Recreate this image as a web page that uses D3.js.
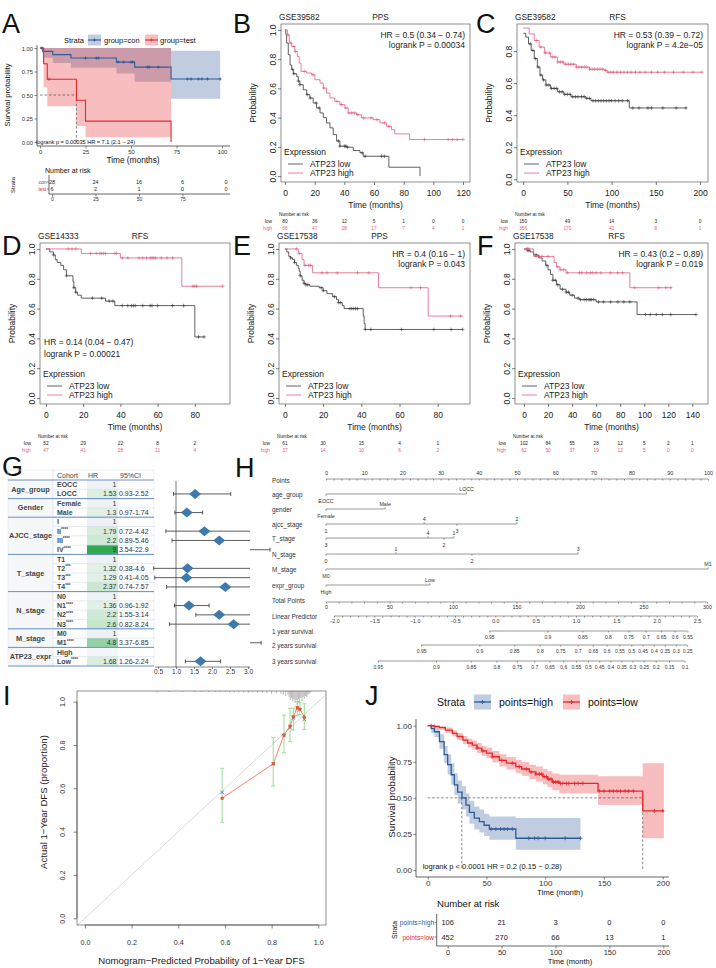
<!DOCTYPE html>
<html><head><meta charset="utf-8">
<script src="https://cdn.jsdelivr.net/npm/d3@7/dist/d3.min.js"></script>
<style>
html,body{margin:0;padding:0;background:#fff;}
svg{display:block;}
</style></head><body>
<svg id="fig" width="716" height="968"></svg>
<script>
// ================= DATA =================
// Panel A (KM, ggsurvplot)
const aConTime=[0,1.5,7,17,42,52,72,99];
const aConSurv=[1,0.964,0.929,0.893,0.85,0.797,0.67,0.67];
const aConLower=[1,0.895,0.84,0.79,0.73,0.64,0.46,0.46];
const aConUpper=[1,1,1,1,1,1,0.97,0.97];
const aConCensor=[1,25,31,32,43,46,50,51,59,60,65,81,83,87,89,92,99];
const aTestTime=[0,2,4,20,25,72];
const aTestSurv=[1,0.833,0.667,0.444,0.222,0];
const aTestLower=[1,0.58,0.38,0.17,0.05,0];
const aTestUpper=[1,1,1,1,1,1];
const aTestCensor=[5];
const aMedian=20;
const aTimeTicks=[0,25,50,75,100];
const aRiskTimes=[0,25,50,75,100];
const aRiskCon=[28,24,16,6,0];
const aRiskTest=[6,2,1,0,0];

// Panel B GSE39582 PPS
const bLowT=[0,0.5,1.1,2.2,3.4,4.5,5.6,7.9,9,10,12.3,14.6,16.8,19,21.3,23.6,25.8,28,30.3,32.5,34.8,37,41.5,46,50.5,52.7,70,91];
const bLowS=[1,0.97,0.91,0.83,0.76,0.73,0.70,0.68,0.65,0.625,0.59,0.557,0.534,0.50,0.466,0.432,0.40,0.364,0.33,0.284,0.24,0.205,0.198,0.175,0.16,0.136,0.061,0];
const bLowC=[5,6,9,10,15,17,21,23,36,37,40,41,42,52,54,65,67];
const bHighT=[0,1.6,2.9,4.5,6.7,8.3,9.6,10.8,14.6,18,20.2,23.6,25.8,28,30.3,33.6,37,40.4,42.6,48.2,51.6,59.4,64,68.4,71.8,74,84,120];
const bHighS=[1,0.966,0.91,0.886,0.852,0.818,0.773,0.716,0.705,0.693,0.659,0.636,0.602,0.568,0.534,0.511,0.489,0.466,0.432,0.42,0.398,0.386,0.364,0.341,0.318,0.289,0.25,0.25];
const bHighC=[2,4,6,7,13,19,26,35,38,41,43,45,47,49,53,58,62,67,70,94,110,113,116,120];
const bRiskT=[0,20,40,60,80,100,120];
const bRiskLow=[80,36,12,5,1,0,0];
const bRiskHigh=[66,47,28,17,7,4,1];

// Panel C GSE39582 RFS
const cLowT=[0,3,6,9,12.5,16,19,22,25.7,31,39,46,54,71,76.6,120,185];
const cLowS=[0.911,0.887,0.845,0.804,0.753,0.70,0.65,0.62,0.588,0.567,0.546,0.53,0.515,0.505,0.49,0.445,0.445];
const cLowC=[8,11,14,17,20,23,26,29,32,35,38,41,44,47,50,53,56,59,62,66,69,72,75,79,82,85,88,91,94,97,100,104,108,112,118,124,131,141,145,158,173,184];
const cHighT=[0,6.8,12.5,18,24,31,39,46,60,75,92,95,202];
const cHighS=[0.944,0.907,0.866,0.825,0.788,0.763,0.732,0.718,0.70,0.687,0.68,0.668,0.668];
const cHighC=[15,20,25,30,33,36,39,42,45,48,51,54,57,60,63,66,69,72,75,78,81,84,87,90,93,96,99,102,106,110,114,118,122,127,132,138,145,152,160,170,181,192,202];
const cRiskT=[0,50,100,150,200];
const cRiskLow=[150,49,14,3,0];
const cRiskHigh=[356,170,42,8,1];

// Panel D GSE14333 RFS
const dLowT=[0,2,4,5,6,8,9.5,11,14.5,15,16,17,19,32,37,80,85];
const dLowS=[1,0.98,0.96,0.93,0.91,0.89,0.86,0.82,0.78,0.74,0.71,0.69,0.67,0.65,0.62,0.41,0.41];
const dLowC=[4,11,15,16,25,30,34,36,41,44,46,47,48,52,56,57,60,68,74,82,85];
const dHighT=[0,19,40,73,95];
const dHighS=[1,0.97,0.94,0.75,0.75];
const dHighC=[12,14,16,24,27,29,30,31,32,37,38,41,44,50,52,54,56,57,58,59,62,65,68,79,80,81,95];
const dRiskT=[0,20,40,60,80];
const dRiskLow=[52,29,22,8,2];
const dRiskHigh=[47,41,28,11,4];

// Panel E GSE17538 PPS
const eLowT=[0,1,2,3,4,5,6,7,7.5,8,9,10,11,13,18,20,22,25,27,28,30,31,41,41.5,42,93];
const eLowS=[1,0.98,0.95,0.94,0.93,0.91,0.89,0.87,0.85,0.82,0.79,0.77,0.76,0.75,0.74,0.72,0.70,0.68,0.66,0.64,0.62,0.60,0.55,0.50,0.46,0.46];
const eLowC=[3,5,8,10,11,12,19,20,26,28,29,34,35,36,37,38,42,45,61,78,87,93];
const eHighT=[0,7,9,10,14.5,49,75,93];
const eHighS=[1,0.97,0.93,0.89,0.84,0.74,0.55,0.55];
const eHighC=[6,7.6,10.6,12.4,13.3,19.5,22,27.4,38,44,66,71,86.7,92];
const eRiskT=[0,20,40,60,80];
const eRiskLow=[61,30,15,4,1];
const eRiskHigh=[37,14,10,6,2];

// Panel F GSE17538 RFS
const fLowT=[0,3,5,8,12,15,18,20,22,24,27,30,35,38,42,46,60,94,143];
const fLowS=[1,0.99,0.98,0.96,0.94,0.92,0.89,0.86,0.83,0.79,0.76,0.73,0.71,0.69,0.67,0.66,0.645,0.56,0.56];
const fLowC=[3,4,10,19,24,26,28,32,35,37,40,45,47,50,52,54,55,56,58,62,66,72,78,83,88,101,105,110,115,122,143];
const fHighT=[0,8,25,27,30,35,88,123];
const fHighS=[1,0.95,0.91,0.88,0.86,0.84,0.74,0.74];
const fHighC=[2,3,4,10,13,15,20,28,30,33,36,46,48,52,55,57,60,64,72,78,82,92,112,118,122];
const fRiskT=[0,20,40,60,80,100,120,140];
const fRiskLow=[102,84,55,28,12,5,2,1];
const fRiskHigh=[62,50,37,19,12,5,0,0];

// Panel G forest table
const gGroupNames=["Age_group","Gender","AJCC_stage","T_stage","N_stage","M_stage","ATP23_expr"];
const gGroupSizes=[2,2,4,4,4,2,2];
const gCohort=["EOCC","LOCC","Female","Male","I","II","III","IV","T1","T2","T3","T4","N0","N1","N2","N3","M0","M1","High","Low"];
const gStars=["","","","","","****","****","****","","***","***","***","","****","****","****","","****","","****"];
const gHR=[1,1.53,1,1.3,1,1.79,2.2,9,1,1.32,1.29,2.37,1,1.36,2.2,2.6,1,4.8,null,1.68];
const gLo=[null,0.93,null,0.97,null,0.72,0.89,3.54,null,0.38,0.41,0.74,null,0.96,1.55,0.82,null,3.37,null,1.26];
const gHi=[null,2.52,null,1.74,null,4.42,5.46,22.9,null,4.6,4.05,7.57,null,1.92,3.14,8.24,null,6.85,null,2.24];
const gAxisTicks=[0.5,1,1.5,2,2.5,3];

// Panel H nomogram
const nomoVars=["age_group","gender","ajcc_stage","T_stage","N_stage","M_stage","expr_group"];
const nomoLevels=[["EOCC","LOCC"],["Female","Male"],["1","4","3","2"],["3","4","2","1"],["0","1","2","3"],["M0","M1"],["High","Low"]];
const nomoPoints=[[0,36.8],[0,15.5],[0,25.7,34.3,50],[0,26.7,30.9,33.5],[0,18.3,38.2,66],[0,100],[0,27.2]];
const nomoSide=[["b","a"],["b","a"],["b","a","b","a"],["b","a","b","a"],["b","a","b","a"],["b","a"],["b","a"]];
const surv1Labels=[0.95,0.9,0.85,0.8,0.75,0.7,0.65,0.6,0.55];
const surv1LP=[-0.075,0.645,1.078,1.395,1.649,1.864,2.053,2.223,2.381];
const surv2Labels=[0.95,0.9,0.85,0.8,0.75,0.7,0.65,0.6,0.55,0.5,0.45,0.4,0.35,0.3,0.25];
const surv2LP=[-0.919,-0.199,0.234,0.551,0.805,1.020,1.209,1.379,1.537,1.685,1.826,1.964,2.100,2.237,2.378];
const surv3Labels=[0.95,0.9,0.85,0.8,0.75,0.7,0.65,0.6,0.55,0.5,0.45,0.4,0.35,0.3,0.25,0.2,0.15,0.1];
const surv3LP=[-1.457,-0.737,-0.304,0.013,0.267,0.482,0.671,0.841,0.999,1.147,1.288,1.426,1.562,1.699,1.840,1.989,2.153,2.347];

// Panel I calibration
const iPred=[0.588,0.807,0.853,0.879,0.893,0.91,0.921,0.94];
const iObs=[0.554,0.713,0.846,0.887,0.93,0.972,0.965,0.929];
const iCorr=[0.581,0.713,0.843,0.88,0.925,0.97,0.962,0.918];
const iLo=[0.443,0.61,0.764,0.815,0.869,0.935,0.94,0.872];
const iHi=[0.692,0.835,0.938,0.969,0.97,1.0,0.995,0.99];
const iRugX=[0.31,0.36,0.42,0.47,0.5,0.53,0.56,0.58,0.6,0.62,0.64,0.66,0.68,0.7,0.72,0.74,0.76,0.78,0.8,0.82,0.84,0.85,0.86,0.87,0.875,0.88,0.885,0.89,0.895,0.9,0.905,0.91,0.915,0.92,0.925,0.93,0.935,0.94,0.945,0.95,0.955,0.96,0.965];
const iRugLen=[1,1,1,1,1,1,1,1,1,1.5,1.5,1.5,1.5,2,1.5,2,2,2,3,2.5,3,4,5,4,6,9,7,10,8,12,9,13,8,11,7,10,6,8,5,6,4,3,2];
const iTicks=[0,0.2,0.4,0.6,0.8,1.0];

// Panel J
const jHighT=[0,3,5.7,10,14,17,20,22.7,25.5,29.2,32.6,35.5,39.7,44,48,52.5,75,130];
const jHighS=[1,0.98,0.958,0.89,0.8,0.73,0.66,0.59,0.54,0.5,0.45,0.40,0.36,0.335,0.31,0.284,0.22,0.22];
const jHighLo=[1,0.95,0.92,0.84,0.74,0.66,0.59,0.52,0.46,0.42,0.37,0.32,0.28,0.26,0.235,0.21,0.14,0.14];
const jHighUp=[1,1,0.99,0.94,0.86,0.80,0.74,0.67,0.62,0.58,0.53,0.48,0.44,0.42,0.39,0.37,0.36,0.36];
const jHighC=[54,58,62,65,68,72,86,91,94,100,117,130];
const jLowT=[0,5,10,15,21,25,30,34,38,42,46,50,55,61,67,75,80,86.5,92,98,102,106,112,145,183,201];
const jLowS=[1,0.995,0.986,0.97,0.947,0.925,0.9,0.88,0.866,0.845,0.825,0.81,0.785,0.76,0.74,0.716,0.70,0.68,0.665,0.647,0.63,0.61,0.6,0.547,0.41,0.41];
const jLowLo=[1,0.985,0.972,0.952,0.925,0.9,0.872,0.85,0.834,0.81,0.79,0.773,0.745,0.718,0.697,0.67,0.653,0.63,0.613,0.594,0.574,0.552,0.53,0.45,0.22,0.22];
const jLowUp=[1,1,0.998,0.988,0.968,0.95,0.928,0.91,0.898,0.88,0.86,0.847,0.824,0.802,0.783,0.762,0.748,0.73,0.717,0.7,0.686,0.668,0.66,0.65,0.74,0.74];
const jLowC=[3,6,42,47,55,63,72,78,84,88,92,95,97,99,101,103,105,107,109,111,113,115,118,120,125,128,132,146,150,155,158,161,164,168,171,175,193,200];
const jMedHigh=29, jMedLow=183;
const jTimeTicks=[0,50,100,150,200];
const jRiskHigh=[106,21,3,0,0];
const jRiskLow=[452,270,66,13,1];

// ================= DRAWING =================
const FONT='"Liberation Sans", Arial, Helvetica, sans-serif';
const svg=d3.select("#fig").attr("font-family",FONT);
const BLUE="#2E5A97", RED="#E8272B", HIGHC="#e2607e", LOWC="#3a3a3a";

function addText(g,x,y,s,o={}){
  const t=g.append("text").attr("x",x).attr("y",y).text(s)
    .attr("font-size",o.size||8).attr("fill",o.fill||"#000")
    .attr("text-anchor",o.anchor||"start").attr("dominant-baseline",o.base||"central");
  if(o.weight) t.attr("font-weight",o.weight);
  if(o.rot) t.attr("transform",`rotate(${o.rot},${x},${y})`);
  return t;
}
function styleAxis(a,size,col){
  a.attr("font-family",FONT).attr("font-size",size);
  a.selectAll(".tick line").attr("stroke",col).attr("stroke-width",0.6);
  a.selectAll(".tick text").attr("fill",col);
  a.select(".domain").attr("stroke",col).attr("stroke-width",0.6);
}
function plus(g,pts,color,h,w){
  g.append("path").attr("d",pts.map(p=>`M${p[0]-h},${p[1]}H${p[0]+h}M${p[0]},${p[1]-h}V${p[1]+h}`).join(""))
    .attr("stroke",color).attr("stroke-width",w||0.6).attr("fill","none");
}
function survAt(T,S,t){let v=S[0];for(let i=0;i<T.length;i++){if(T[i]<=t)v=S[i];}return v;}

// panel letters
[["A",2,33],["B",233,33],["C",476,33],["D",2,255],["E",233,255],["F",477,255],["G",2,476],["H",235,477],["I",3,705],["J",365,705]]
 .forEach(d=>addText(svg,d[1],d[2],d[0],{size:27,base:"alphabetic",fill:"#111"}));

// ---------- R-base KM panels (B-F) ----------
function kmBase(c){
  const g=svg.append("g");
  const x=d3.scaleLinear(c.xDom,[c.L,c.R]);
  const y=d3.scaleLinear(c.yDom,[c.B,c.T]);
  g.append("clipPath").attr("id","cp"+c.id).append("rect").attr("x",c.L).attr("y",c.T).attr("width",c.R-c.L).attr("height",c.B-c.T);
  const pg=g.append("g").attr("clip-path",`url(#cp${c.id})`);
  const line=d3.line().x(d=>x(d[0])).y(d=>y(d[1])).curve(d3.curveStepAfter);
  c.curves.forEach(cv=>{
    pg.append("path").attr("d",line(cv.t.map((t,i)=>[t,cv.s[i]]))).attr("fill","none").attr("stroke",cv.color).attr("stroke-width",0.8);
    plus(pg,cv.c.map(t=>[x(t),y(survAt(cv.t,cv.s,t))]),cv.color,1.8);
  });
  g.append("rect").attr("x",c.L).attr("y",c.T).attr("width",c.R-c.L).attr("height",c.B-c.T).attr("fill","none").attr("stroke","#444").attr("stroke-width",0.6);
  const xa=g.append("g").attr("transform",`translate(0,${c.B})`).call(d3.axisBottom(x).tickValues(c.xTicks).tickSize(3).tickFormat(d3.format("d")));
  xa.select(".domain").remove(); styleAxis(xa,8.5,"#222");
  xa.selectAll(".tick text").attr("y",11).attr("dy","0.35em");
  const ya=g.append("g").attr("transform",`translate(${c.L},0)`).call(d3.axisLeft(y).tickValues(c.yTicks).tickSize(3).tickFormat(d3.format(".1f")));
  ya.select(".domain").remove(); styleAxis(ya,8.5,"#222");
  ya.selectAll(".tick text").attr("x",0).attr("y",-5).attr("dy",null).attr("text-anchor","middle").attr("transform","rotate(-90)");
  addText(g,c.L-2,c.T-7,c.title,{size:8.3,fill:"#222"});
  addText(g,(c.L+c.R)/2+5,c.T-7,c.endpoint,{size:8.3,anchor:"middle",fill:"#222"});
  addText(g,c.L-28,(c.T+c.B)/2,"Probability",{size:8.5,anchor:"middle",rot:-90,fill:"#222"});
  addText(g,(c.L+c.R)/2,c.B+23,"Time (months)",{size:8.5,anchor:"middle",fill:"#222"});
  if(c.hrLeft){
    addText(g,c.L+4,c.hrY[0],c.hr,{size:8.5,fill:"#222"});
    addText(g,c.L+4,c.hrY[1],c.lr,{size:8.5,fill:"#222"});
  } else {
    addText(g,c.R-5,c.T+11,c.hr,{size:8.5,anchor:"end",fill:"#222"});
    addText(g,c.R-5,c.T+21,c.lr,{size:8.5,anchor:"end",fill:"#222"});
  }
  addText(g,c.L+3,c.B-30,"Expression",{size:8.5,fill:"#222"});
  [[LOWC,"ATP23 low",c.B-18],[HIGHC,"ATP23 high",c.B-9]].forEach(d=>{
    g.append("line").attr("x1",c.L+7).attr("x2",c.L+22).attr("y1",d[2]).attr("y2",d[2]).attr("stroke",d[0]).attr("stroke-width",0.8);
    addText(g,c.L+29,d[2],d[1],{size:8.5,fill:"#222"});
  });
  addText(g,c.L-2,c.B+32,"Number at risk",{size:4.6,fill:"#222"});
  addText(g,c.L-9,c.B+39,"low",{size:4.8,anchor:"end",fill:"#222"});
  addText(g,c.L-9,c.B+46,"high",{size:4.8,anchor:"end",fill:HIGHC});
  c.riskT.forEach((t,i)=>{
    addText(g,x(t),c.B+39,c.riskLow[i],{size:4.8,anchor:"middle",fill:"#222"});
    addText(g,x(t),c.B+46,c.riskHigh[i],{size:4.8,anchor:"middle",fill:HIGHC});
  });
}
const yT02=[0,0.2,0.4,0.6,0.8,1.0];
kmBase({id:"B",L:281,R:470,T:24,B:182,xDom:[-2.7,124.7],yDom:[-0.04,1.04],xTicks:[0,20,40,60,80,100,120],yTicks:yT02,
  title:"GSE39582",endpoint:"PPS",hr:"HR = 0.5 (0.34 − 0.74)",lr:"logrank P = 0.00034",
  curves:[{t:bLowT,s:bLowS,c:bLowC,color:LOWC},{t:bHighT,s:bHighS,c:bHighC,color:HIGHC}],
  riskT:bRiskT,riskLow:bRiskLow,riskHigh:bRiskHigh});
kmBase({id:"C",L:517,R:708,T:24,B:182,xDom:[-7,209],yDom:[-0.017,0.969],xTicks:[0,50,100,150,200],yTicks:[0,0.2,0.4,0.6,0.8],
  title:"GSE39582",endpoint:"RFS",hr:"HR = 0.53 (0.39 − 0.72)",lr:"logrank P = 4.2e−05",
  curves:[{t:cLowT,s:cLowS,c:cLowC,color:LOWC},{t:cHighT,s:cHighS,c:cHighC,color:HIGHC}],
  riskT:cRiskT,riskLow:cRiskLow,riskHigh:cRiskHigh});
kmBase({id:"D",L:40,R:230,T:243,B:404,xDom:[-3.2,98.9],yDom:[-0.04,1.04],xTicks:[0,20,40,60,80],yTicks:yT02,
  title:"GSE14333",endpoint:"RFS",hr:"HR = 0.14 (0.04 − 0.47)",lr:"logrank P = 0.00021",hrLeft:true,hrY:[342,354],
  curves:[{t:dLowT,s:dLowS,c:dLowC,color:LOWC},{t:dHighT,s:dHighS,c:dHighC,color:HIGHC}],
  riskT:dRiskT,riskLow:dRiskLow,riskHigh:dRiskHigh});
kmBase({id:"E",L:279,R:470,T:243,B:404,xDom:[-3.1,96.9],yDom:[-0.04,1.04],xTicks:[0,20,40,60,80],yTicks:yT02,
  title:"GSE17538",endpoint:"PPS",hr:"HR = 0.4 (0.16 − 1)",lr:"logrank P = 0.043",
  curves:[{t:eLowT,s:eLowS,c:eLowC,color:LOWC},{t:eHighT,s:eHighS,c:eHighC,color:HIGHC}],
  riskT:eRiskT,riskLow:eRiskLow,riskHigh:eRiskHigh});
kmBase({id:"F",L:515,R:708,T:243,B:404,xDom:[-7.5,153],yDom:[-0.04,1.04],xTicks:[0,20,40,60,80,100,120,140],yTicks:yT02,
  title:"GSE17538",endpoint:"RFS",hr:"HR = 0.43 (0.2 − 0.89)",lr:"logrank P = 0.019",
  curves:[{t:fLowT,s:fLowS,c:fLowC,color:LOWC},{t:fHighT,s:fHighS,c:fHighC,color:HIGHC}],
  riskT:fRiskT,riskLow:fRiskLow,riskHigh:fRiskHigh});

// ---------- ggsurvplot panels (A, J) ----------
function ggKM(c){
  const g=svg.append("g");
  const x=d3.scaleLinear(c.xDom,c.xRange);
  const y=d3.scaleLinear([0,1],c.yRange);
  const area=d3.area().x(d=>x(d[0])).y0(d=>y(d[1])).y1(d=>y(d[2])).curve(d3.curveStepAfter);
  const line=d3.line().x(d=>x(d[0])).y(d=>y(d[1])).curve(d3.curveStepAfter);
  c.curves.forEach(cv=>{
    g.append("path").attr("d",area(cv.t.map((t,i)=>[t,cv.lo[i],cv.up[i]]))).attr("fill",cv.color).attr("fill-opacity",0.3);
  });
  g.append("path").attr("d",c.medPath(x,y)).attr("stroke","#333").attr("stroke-width",0.6).attr("stroke-dasharray","2.5,2").attr("fill","none");
  c.curves.forEach(cv=>{
    g.append("path").attr("d",line(cv.t.map((t,i)=>[t,cv.s[i]]))).attr("fill","none").attr("stroke",cv.color).attr("stroke-width",c.lw);
    plus(g,cv.c.map(t=>[x(t),y(survAt(cv.t,cv.s,t))]),cv.color,c.ph,0.8);
  });
  const xa=g.append("g").attr("transform",`translate(0,${c.axY})`).call(d3.axisBottom(x).tickValues(c.xTicks).tickSize(2.5));
  styleAxis(xa,c.tickSize,"#333");
  xa.select(".domain").attr("d",`M${c.axX},0H${c.axXEnd}`).attr("stroke","#000");
  xa.selectAll(".tick text").attr("y",c.xLabOff).attr("dy","0.35em");
  const ya=g.append("g").attr("transform",`translate(${c.axX},0)`).call(d3.axisLeft(y).tickValues([0,0.25,0.5,0.75,1]).tickFormat(d3.format(".2f")).tickSize(2.5).tickPadding(1.5));
  styleAxis(ya,c.tickSize,"#333");
  ya.select(".domain").attr("d",`M0,${c.axYTop}V${c.axY}`).attr("stroke","#000");
  ya.selectAll(".tick text").attr("dy","0.35em");
  return {g,x,y};
}
function ggRisk(g,c){
  const xr=d3.scaleLinear(c.xDom,c.xRange);
  g.append("line").attr("x1",c.axX).attr("x2",c.axX).attr("y1",c.yTop).attr("y2",c.axY).attr("stroke","#000").attr("stroke-width",0.6);
  const xa=g.append("g").attr("transform",`translate(0,${c.axY})`).call(d3.axisBottom(xr).tickValues(c.ticks).tickSize(2.5));
  styleAxis(xa,c.tickSize,"#333");
  xa.select(".domain").attr("d",`M${c.axX},0H${c.axXEnd}`).attr("stroke","#000");
  xa.selectAll(".tick text").attr("y",c.labOff).attr("dy","0.35em");
  c.rows.forEach(r=>{
    g.append("line").attr("x1",c.axX-2).attr("x2",c.axX).attr("y1",r.y).attr("y2",r.y).attr("stroke","#333").attr("stroke-width",0.6);
    addText(g,c.axX-2.5,r.y,r.label,{size:c.labSize,anchor:"end",fill:r.color});
    c.times.forEach((t,i)=>addText(g,xr(t),r.y,r.vals[i],{size:c.numSize,anchor:"middle",fill:"#222"}));
  });
}
// Panel A
{
  const p=ggKM({xDom:[0,100],xRange:[40,222],yRange:[142,48],lw:1.1,ph:1.6,
    curves:[{t:aConTime,s:aConSurv,lo:aConLower,up:aConUpper,c:aConCensor,color:BLUE},
            {t:aTestTime,s:aTestSurv,lo:aTestLower,up:aTestUpper,c:aTestCensor,color:RED}],
    medPath:(x,y)=>`M${x(0)},${y(0.5)}H${x(aMedian)}V${y(0)}`,
    axY:146,axX:37,axXEnd:230,axYTop:45,xTicks:aTimeTicks,tickSize:5.8,xLabOff:5.5});
  const g=p.g;
  addText(g,7,95,"Survival probability",{size:7.5,anchor:"middle",rot:-90,fill:"#111"});
  addText(g,133,160,"Time (months)",{size:8.3,anchor:"middle",fill:"#111"});
  addText(g,36,141.5,"logrank p = 0.00035  HR = 7.1 (2.1 − 24)",{size:5.6,fill:"#111"});
  addText(g,64,40,"Strata",{size:7.5,fill:"#111"});
  [[BLUE,88,"group=con",104],[RED,145,"group=test",160]].forEach(d=>{
    g.append("rect").attr("x",d[1]).attr("y",34.5).attr("width",13).attr("height",11).attr("fill",d[0]).attr("fill-opacity",0.3);
    g.append("line").attr("x1",d[1]).attr("x2",d[1]+13).attr("y1",40).attr("y2",40).attr("stroke",d[0]).attr("stroke-width",1.1);
    plus(g,[[d[1]+6.5,40]],d[0],1.6,0.8);
    addText(g,d[3],40,d[2],{size:7.5,fill:"#111"});
  });
  addText(g,45,170,"Number at risk",{size:7,fill:"#111"});
  addText(g,13,185,"Strata",{size:6,anchor:"middle",rot:-90,fill:"#111"});
  ggRisk(g,{xDom:[0,100],xRange:[52,226],axX:49,axXEnd:230,yTop:175,axY:194,ticks:[0,25,50,75],tickSize:5,labOff:5.5,
    labSize:5,numSize:5.5,times:aRiskTimes,
    rows:[{y:182,label:"con",color:BLUE,vals:aRiskCon},{y:189,label:"test",color:RED,vals:aRiskTest}]});
}
// Panel J
{
  const p=ggKM({xDom:[0,200],xRange:[427.7,662.7],yRange:[870,725.7],lw:1.3,ph:2,
    curves:[{t:jHighT,s:jHighS,lo:jHighLo,up:jHighUp,c:jHighC,color:BLUE},
            {t:jLowT,s:jLowS,lo:jLowLo,up:jLowUp,c:jLowC,color:RED}],
    medPath:(x,y)=>`M${x(0)},${y(0.5)}H${x(jMedLow)}V${y(0)}M${x(jMedHigh)},${y(0.5)}V${y(0)}`,
    axY:877,axX:416,axXEnd:669,axYTop:719,xTicks:jTimeTicks,tickSize:8,xLabOff:6.5});
  const g=p.g;
  addText(g,391,797,"Survival probability",{size:9.7,anchor:"middle",rot:-90,fill:"#111"});
  addText(g,560,892.5,"Time (month)",{size:7.8,anchor:"middle",fill:"#111"});
  addText(g,422.7,866,"logrank p < 0.0001 HR = 0.2 (0.15 − 0.28)",{size:7.5,fill:"#111"});
  addText(g,437,702,"Strata",{size:10.5,fill:"#111"});
  [[BLUE,474,"points=high",499],[RED,563,"points=low",588]].forEach(d=>{
    g.append("rect").attr("x",d[1]).attr("y",694.5).attr("width",17).attr("height",15).attr("fill",d[0]).attr("fill-opacity",0.3);
    g.append("line").attr("x1",d[1]).attr("x2",d[1]+17).attr("y1",702).attr("y2",702).attr("stroke",d[0]).attr("stroke-width",1.3);
    plus(g,[[d[1]+8.5,702]],d[0],2,0.9);
    addText(g,d[3],702,d[2],{size:10.5,fill:"#111"});
  });
  addText(g,437,903,"Number at risk",{size:9.6,fill:"#111"});
  addText(g,394,930,"Strata",{size:6.7,anchor:"middle",rot:-90,fill:"#111"});
  ggRisk(g,{xDom:[0,200],xRange:[447.7,663.3],axX:436.7,axXEnd:669,yTop:914,axY:946,ticks:jTimeTicks,tickSize:7.5,labOff:6,
    labSize:6.7,numSize:7.5,times:jTimeTicks,
    rows:[{y:922.7,label:"points=high",color:BLUE,vals:jRiskHigh},{y:937,label:"points=low",color:RED,vals:jRiskLow}]});
  addText(g,570,961,"Time (month)",{size:7.5,anchor:"middle",fill:"#111"});
}

// ---------- Panel G ----------
{
  const g=svg.append("g");
  const top=480, rh=9.3, L=8, grpR=53, hrL=87, hrR=118, R=154;
  const rowTop=i=>top+i*rh, rowC=i=>top+i*rh+rh/2;
  const n=gCohort.length;
  const bottom=top+n*rh;
  const green=d3.interpolateRgb("#e9f4ec","#33a852");
  for(let i=0;i<n;i++){
    const fill=(gHR[i]===null)?"#f3f6f9":(gHR[i]===1?"#eef2f6":green(Math.min(1,(gHR[i]-1)/8)));
    g.append("rect").attr("x",hrL).attr("y",rowTop(i)).attr("width",hrR-hrL).attr("height",rh).attr("fill",fill);
    if(i>0) g.append("line").attr("x1",grpR).attr("x2",R).attr("y1",rowTop(i)).attr("y2",rowTop(i)).attr("stroke","#cdd6e3").attr("stroke-width",0.5);
  }
  let idx=0;
  gGroupNames.forEach((nm,gi)=>{
    const y0=rowTop(idx), y1=rowTop(idx+gGroupSizes[gi]);
    g.append("rect").attr("x",L).attr("y",y0).attr("width",grpR-L).attr("height",y1-y0).attr("fill","#f6f7f9");
    addText(g,(L+grpR)/2,(y0+y1)/2,nm,{size:7.3,anchor:"middle",fill:"#444",weight:"bold"});
    idx+=gGroupSizes[gi];
  });
  g.append("line").attr("x1",grpR).attr("x2",grpR).attr("y1",470).attr("y2",bottom).attr("stroke","#d5dce6").attr("stroke-width",0.6);
  g.append("line").attr("x1",R).attr("x2",R).attr("y1",470).attr("y2",bottom).attr("stroke","#e2e7ee").attr("stroke-width",0.6);
  g.append("line").attr("x1",L).attr("x2",L).attr("y1",470).attr("y2",bottom).attr("stroke","#e2e7ee").attr("stroke-width",0.6);
  g.append("line").attr("x1",L).attr("x2",R).attr("y1",470).attr("y2",470).attr("stroke","#dde3ea").attr("stroke-width",0.6);
  let acc=0; const bounds=[0];
  gGroupSizes.forEach(s=>{acc+=s;bounds.push(acc);});
  bounds.forEach(b=>g.append("line").attr("x1",L).attr("x2",R).attr("y1",rowTop(b)).attr("y2",rowTop(b)).attr("stroke","#5a82c2").attr("stroke-width",0.9));
  addText(g,57,475,"Cohort",{size:7,fill:"#444"});
  addText(g,88,475,"HR",{size:7,fill:"#444"});
  addText(g,120,475,"95%CI",{size:7,fill:"#444"});
  for(let i=0;i<n;i++){
    const t=addText(g,57,rowC(i),gCohort[i],{size:7,fill:"#444",weight:"bold"});
    if(gStars[i]) t.append("tspan").attr("font-size",4.5).attr("dy",-2).text(gStars[i]);
    if(gHR[i]!==null) addText(g,hrR-1.5,rowC(i),gHR[i],{size:7,anchor:"end",fill:"#333"});
    if(gLo[i]!==null) addText(g,hrR+1,rowC(i),gLo[i]+"-"+gHi[i],{size:7,fill:"#333"});
  }
  const xF=d3.scaleLinear([0.5,3],[158,248]);
  const clipR=250;
  g.append("line").attr("x1",xF(1)).attr("x2",xF(1)).attr("y1",481).attr("y2",667).attr("stroke","#555").attr("stroke-width",0.8);
  const fa=g.append("g").attr("transform","translate(0,667)").call(d3.axisBottom(xF).tickValues(gAxisTicks).tickSize(2));
  styleAxis(fa,6.5,"#333");
  fa.select(".domain").attr("d","M155,0H250");
  fa.selectAll(".tick text").attr("y",5).attr("dy","0.35em");
  for(let i=0;i<n;i++){
    if(gLo[i]===null) continue;
    const cy=rowC(i);
    if(gLo[i]>3){
      const len=Math.min(20,(gHi[i]-gLo[i])*0.9+8);
      g.append("path").attr("d",`M${clipR},${cy}H${clipR+len}M${clipR+len},${cy-2}V${cy+2}`).attr("stroke","#333").attr("stroke-width",0.8).attr("fill","none");
      continue;
    }
    const x1=xF(gLo[i]), x2=Math.min(clipR,xF(gHi[i]));
    let d=`M${x1},${cy}H${x2}M${x1},${cy-2}V${cy+2}`;
    if(gHi[i]<=3) d+=`M${x2},${cy-2}V${cy+2}`;
    g.append("path").attr("d",d).attr("stroke","#333").attr("stroke-width",0.8).attr("fill","none");
    const cx=xF(gHR[i]);
    g.append("path").attr("d",`M${cx-6},${cy}L${cx},${cy-5}L${cx+6},${cy}L${cx},${cy+5}Z`).attr("fill","#3f79aa");
  }
}

// ---------- Panel H nomogram ----------
{
  const g=svg.append("g");
  const pts=d3.scaleLinear([0,100],[326,708]);
  const tot=d3.scaleLinear([0,300],[326,707]);
  const lpS=d3.scaleLinear([-2,2.5],[334,697]);
  const lab=(y,s)=>addText(g,272,y,s,{size:6.4,fill:"#333"});
  const LC="#555";
  lab(480,"Points");
  const pa=g.append("g").attr("transform","translate(0,479)").call(d3.axisBottom(pts).tickValues(d3.range(0,101,2)).tickSize(1.6).tickFormat(""));
  styleAxis(pa,5.5,LC); pa.select(".domain").attr("d",`M${pts(0)},0H${pts(100)}`);
  const pl=g.append("g").attr("transform","translate(0,479)").call(d3.axisTop(pts).tickValues(d3.range(0,101,10)).tickSize(0).tickPadding(4));
  styleAxis(pl,5.5,"#333"); pl.select(".domain").remove();
  const vy=[494,509,524,538,554,569,585];
  nomoVars.forEach((v,i)=>{
    const y=vy[i];
    lab(y,v);
    const P=nomoPoints[i];
    g.append("line").attr("x1",pts(0)).attr("x2",pts(d3.max(P))).attr("y1",y).attr("y2",y).attr("stroke",LC).attr("stroke-width",0.6);
    P.forEach((p,k)=>{
      const above=nomoSide[i][k]==="a";
      g.append("line").attr("x1",pts(p)).attr("x2",pts(p)).attr("y1",y).attr("y2",above?y-1.8:y+1.8).attr("stroke",LC).attr("stroke-width",0.6);
      addText(g,pts(p),above?y-5:y+6.5,nomoLevels[i][k],{size:5.3,anchor:"middle",fill:"#333"});
    });
  });
  lab(600,"Total Points");
  const ta=g.append("g").attr("transform","translate(0,602)").call(d3.axisBottom(tot).tickValues(d3.range(0,301,10)).tickSize(1.6).tickFormat(""));
  styleAxis(ta,5.3,LC); ta.select(".domain").attr("d",`M${tot(0)},0H${tot(300)}`);
  const tl=g.append("g").attr("transform","translate(0,602)").call(d3.axisBottom(tot).tickValues(d3.range(0,301,50)).tickSize(0));
  styleAxis(tl,5.3,"#333"); tl.select(".domain").remove(); tl.selectAll(".tick text").attr("y",5).attr("dy","0.35em");
  lab(616,"Linear Predictor");
  const la=g.append("g").attr("transform","translate(0,616)").call(d3.axisBottom(lpS).tickValues(d3.range(-20,26,1).map(v=>v/10)).tickSize(1.6).tickFormat(""));
  styleAxis(la,5.3,LC); la.select(".domain").attr("d",`M${lpS(-2)},0H${lpS(2.5)}`);
  const ll=g.append("g").attr("transform","translate(0,616)").call(d3.axisBottom(lpS).tickValues([-2,-1.5,-1,-0.5,0,0.5,1,1.5,2,2.5]).tickSize(0));
  styleAxis(ll,5.3,"#333"); ll.select(".domain").remove(); ll.selectAll(".tick text").attr("y",5.5).attr("dy","0.35em");
  [[631,"1 year survival",surv1LP,surv1Labels],[645,"2 years survival",surv2LP,surv2Labels],[661,"3 years survival",surv3LP,surv3Labels]].forEach(s=>{
    lab(s[0],s[1]);
    const a=g.append("g").attr("transform",`translate(0,${s[0]})`).call(d3.axisBottom(lpS).tickValues(s[2]).tickSize(1.6).tickFormat((d,i)=>s[3][i]));
    styleAxis(a,5,"#333");
    a.select(".domain").attr("d",`M${lpS(s[2][0])},0H${lpS(s[2][s[2].length-1])}`).attr("stroke",LC);
    a.selectAll(".tick line").attr("stroke",LC);
    a.selectAll(".tick text").attr("y",6).attr("dy","0.35em");
  });
}

// ---------- Panel I calibration ----------
{
  const g=svg.append("g");
  const L=77,R=326,T=691,B=925;
  const x=d3.scaleLinear([-0.034,1.033],[L,R]);
  const y=d3.scaleLinear([-0.031,1.049],[B,T]);
  g.append("clipPath").attr("id","cpI").append("rect").attr("x",L).attr("y",T).attr("width",R-L).attr("height",B-T);
  const pg=g.append("g").attr("clip-path","url(#cpI)");
  pg.append("line").attr("x1",x(-0.05)).attr("y1",y(-0.05)).attr("x2",x(1.1)).attr("y2",y(1.1)).attr("stroke","#cfcfcf").attr("stroke-width",0.8);
  pg.append("path").attr("d",iRugX.map((v,i)=>`M${x(v)},${T}V${T+iRugLen[i]}`).join("")).attr("stroke","#777").attr("stroke-width",0.5);
  pg.append("path").attr("d",iPred.map((p,i)=>`M${x(p)},${y(iLo[i])}V${y(iHi[i])}M${x(p)-2},${y(iLo[i])}H${x(p)+2}M${x(p)-2},${y(iHi[i])}H${x(p)+2}`).join(""))
    .attr("stroke","#8fd88f").attr("stroke-width",0.9).attr("fill","none");
  pg.append("path").attr("d",d3.line().x((d,i)=>x(iPred[i])).y(d=>y(d))(iObs)).attr("stroke","#f3785c").attr("stroke-width",0.9).attr("fill","none");
  pg.append("path").attr("d",iPred.map((p,i)=>{const cx=x(p),cy=y(iCorr[i]);return `M${cx-1.8},${cy-1.8}L${cx+1.8},${cy+1.8}M${cx-1.8},${cy+1.8}L${cx+1.8},${cy-1.8}`;}).join(""))
    .attr("stroke","#5a79c8").attr("stroke-width",0.9).attr("fill","none");
  iPred.forEach((p,i)=>pg.append("rect").attr("x",x(p)-1.5).attr("y",y(iObs[i])-1.5).attr("width",3).attr("height",3).attr("fill","#d95a25"));
  g.append("rect").attr("x",L).attr("y",T).attr("width",R-L).attr("height",B-T).attr("fill","none").attr("stroke","#444").attr("stroke-width",0.6);
  const xa=g.append("g").attr("transform",`translate(0,${B})`).call(d3.axisBottom(x).tickValues(iTicks).tickSize(3.5).tickFormat(d3.format(".1f")));
  xa.select(".domain").attr("d",`M${x(0)},0H${x(1)}`); styleAxis(xa,7.2,"#333");
  xa.selectAll(".tick text").attr("y",17).attr("dy","0.35em");
  const ya=g.append("g").attr("transform",`translate(${L},0)`).call(d3.axisLeft(y).tickValues(iTicks).tickSize(3.5).tickFormat(d3.format(".1f")));
  ya.select(".domain").attr("d",`M0,${y(0)}V${y(1)}`); styleAxis(ya,7.2,"#333");
  ya.selectAll(".tick text").attr("x",0).attr("y",-12).attr("dy",null).attr("text-anchor","middle").attr("transform","rotate(-90)");
  addText(g,(L+R)/2,960,"Nomogram−Predicted Probability of 1−Year DFS",{size:9.6,anchor:"middle",fill:"#222"});
  addText(g,43,802,"Actual 1−Year DFS (proportion)",{size:9.6,anchor:"middle",rot:-90,fill:"#222"});
}
</script></body></html>
